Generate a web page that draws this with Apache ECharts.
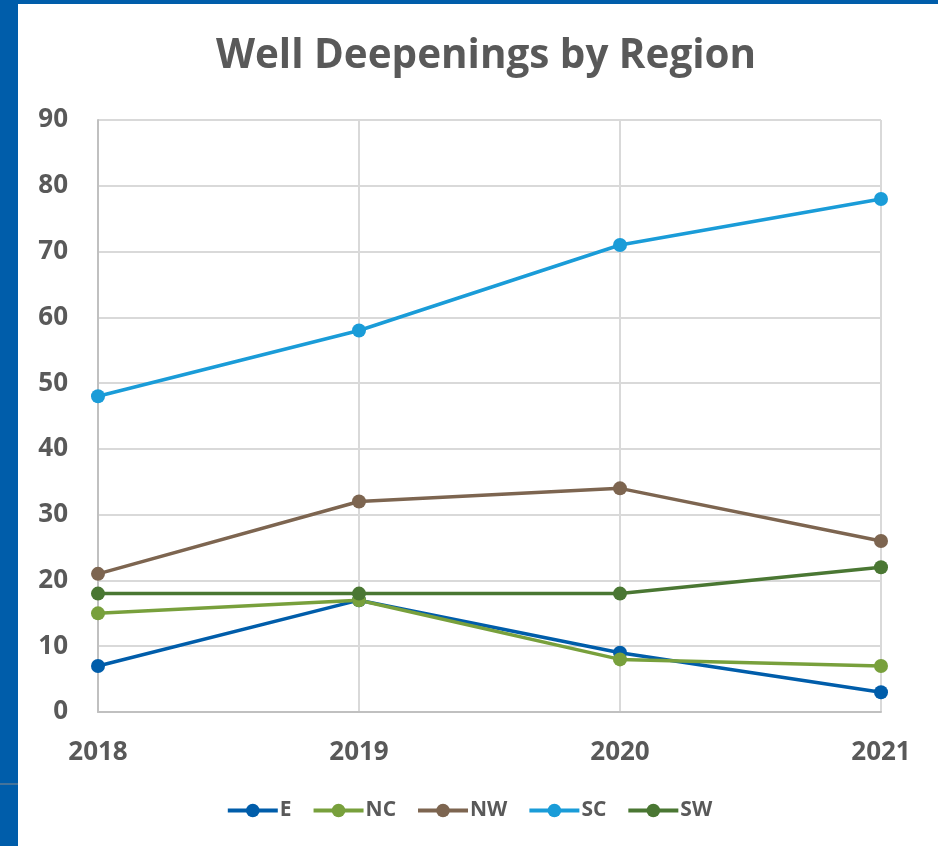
<!DOCTYPE html>
<html><head><meta charset="utf-8">
<script src="https://cdn.jsdelivr.net/npm/echarts@6/dist/echarts.min.js"></script>
<style>html,body{margin:0;padding:0;background:#fff}#c{width:938px;height:846px}</style>
</head><body><div id="c"></div>
<script>
const years = ['2018','2019','2020','2021'];
const seriesNames = ['E','NC','NW','SC','SW'];
const E  = [7, 17, 9, 3];
const NC = [15, 17, 8, 7];
const NW = [21, 32, 34, 26];
const SC = [48, 58, 71, 78];
const SW = [18, 18, 18, 22];
const colors = ['#005DAA','#78A03C','#7D6550','#1A9CD8','#4A7733'];
const values = [E, NC, NW, SC, SW];

const FONT = '"Open Sans", sans-serif';
const chart = echarts.init(document.getElementById('c'));
chart.setOption({
  animation: false,
  backgroundColor: '#fff',
  color: colors,
  title: {
    text: 'Well Deepenings by Region',
    left: 481, textAlign: 'center', top: 31,
    textStyle: { fontFamily: FONT, fontWeight: 'bold', fontSize: 40.4, color: '#595959' }
  },
  legend: {
    data: seriesNames,
    bottom: 20, left: 'center',
    itemWidth: 50, itemHeight: 17, itemGap: 20,
    lineStyle: { width: 4 },
    textStyle: { fontFamily: FONT, fontWeight: 'bold', fontSize: 21, color: '#595959', padding: [0,0,0,-3] }
  },
  grid: { left: 98, right: 57, top: 120, bottom: 134, containLabel: false },
  xAxis: {
    type: 'category', data: years, boundaryGap: false,
    axisLine: { lineStyle: { color: '#c0c0c0', width: 2 } },
    axisTick: { show: false },
    splitLine: { show: true, lineStyle: { color: '#d9d9d9', width: 2 } },
    axisLabel: { margin: 28, fontFamily: FONT, fontWeight: 'bold', fontSize: 26, color: '#595959' }
  },
  yAxis: {
    type: 'value', min: 0, max: 90, interval: 10,
    axisLine: { show: true, lineStyle: { color: '#c0c0c0', width: 2 } },
    axisTick: { show: false },
    splitLine: { lineStyle: { color: '#d9d9d9', width: 2 } },
    axisLabel: { margin: 30, fontFamily: FONT, fontWeight: 'bold', fontSize: 26, color: '#595959' }
  },
  series: seriesNames.map((n, i) => ({
    name: n, type: 'line', data: values[i],
    symbol: 'circle', symbolSize: 14,
    lineStyle: { width: 3.5, color: colors[i] },
    itemStyle: { color: colors[i] }
  })),
  graphic: [
    { type: 'rect', shape: { x: 0, y: 0, width: 18, height: 846 }, style: { fill: '#005DAA' }, z: 100 },
    { type: 'rect', shape: { x: 0, y: 0, width: 938, height: 4 }, style: { fill: '#005DAA' }, z: 100 },
    { type: 'line', shape: { x1: 0, y1: 784, x2: 18, y2: 784 }, style: { stroke: '#8a8a8a', lineWidth: 1 }, z: 101 }
  ]
});
</script></body></html>
